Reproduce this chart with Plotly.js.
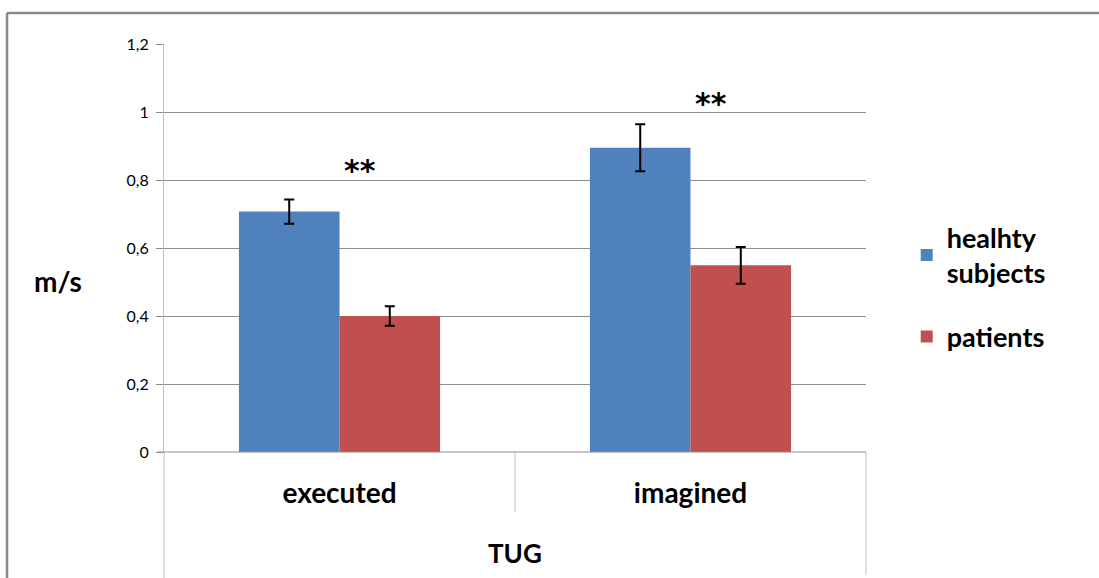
<!DOCTYPE html>
<html>
<head>
<meta charset="utf-8">
<script src="https://cdn.plot.ly/plotly-3.0.1.min.js"></script>
<style>html,body{margin:0;padding:0;background:#fff;}#chart{width:1099px;height:578px;}</style>
</head>
<body>
<div id="chart"></div>
<script>
const categories = ["executed", "imagined"];
const seriesNames = ["healhty<br>subjects", "patients"];
const healthyValues = [0.707, 0.895];
const healthyErrors = [0.036, 0.069];
const patientValues = [0.400, 0.549];
const patientErrors = [0.029, 0.054];
const yTicks = [0, 0.2, 0.4, 0.6, 0.8, 1, 1.2];
const groupTitle = "TUG";
const yTitle = "m/s";
const significance = ["**", "**"];
const significanceY = [0.838, 1.035];

const FONT = "Lato, 'Open Sans', sans-serif";
const errStyle = (arr) => ({type: "data", array: arr, visible: true, color: "#000", thickness: 2, width: 5});

const traces = [
  {type: "bar", name: seriesNames[0], legendgroup: "a", x: categories, y: healthyValues,
   error_y: errStyle(healthyErrors), marker: {color: "#4F81BD", line: {width: 0}}},
  {type: "bar", name: seriesNames[1], legendgroup: "b", x: categories, y: patientValues,
   error_y: errStyle(patientErrors), marker: {color: "#C0504D", line: {width: 0}}}
];

const gray = "#8c8c8c";
const light = "#bfbfbf";
const shapes = [
  {type: "line", xref: "paper", yref: "paper", x0: -0.2236, x1: 1.35, y0: 1.076, y1: 1.076, line: {color: "#8a8a8a", width: 2.5}},
  {type: "line", xref: "paper", yref: "paper", x0: -0.2236, x1: -0.2236, y0: 1.076, y1: -0.35, line: {color: "#8a8a8a", width: 2.5}},
  {type: "line", xref: "paper", yref: "paper", x0: 0, x1: 0, y0: 0, y1: -0.32, line: {color: light, width: 1}},
  {type: "line", xref: "paper", yref: "paper", x0: 0.5, x1: 0.5, y0: 0, y1: -0.147, line: {color: light, width: 1}},
  {type: "line", xref: "paper", yref: "paper", x0: 1, x1: 1, y0: 0, y1: -0.301, line: {color: light, width: 1}},
  {type: "line", xref: "paper", yref: "paper", x0: -0.0085, x1: 1, y0: 0, y1: 0, line: {color: gray, width: 1}}
];

const annotations = [
  {xref: "paper", yref: "paper", x: (58 - 164) / 702, y: (452 - 281) / 408, text: "<b>" + yTitle + "</b>",
   showarrow: false, font: {family: FONT, size: 28, color: "#000"}, xanchor: "center", yanchor: "middle"},
  {xref: "paper", yref: "paper", x: 0.5, y: (452 - 553) / 408, text: "<b>" + groupTitle + "</b>",
   showarrow: false, font: {family: FONT, size: 26, color: "#000"}, xanchor: "center", yanchor: "middle"}
];
categories.forEach((c, i) => {
  annotations.push({x: c, y: significanceY[i], xref: "x", yref: "y", xshift: 20, yshift: -3, text: "<b>" + significance[i] + "</b>",
    showarrow: false, font: {family: "'DejaVu Sans', sans-serif", size: 30, color: "#000"}, xanchor: "center", yanchor: "middle"});
});

const layout = {
  width: 1099, height: 578,
  margin: {l: 164, r: 233, t: 44, b: 126, pad: 0},
  paper_bgcolor: "#fff", plot_bgcolor: "#fff",
  separators: ",.",
  barmode: "group", bargap: 0.427, bargroupgap: 0,
  font: {family: FONT, color: "#000"},
  showlegend: true,
  legend: {x: 1.058, y: 0.585, xanchor: "left", yanchor: "top", traceorder: "grouped",
    font: {family: FONT, size: 27, color: "#000", weight: "bold"},
    tracegroupgap: 26, bgcolor: "rgba(0,0,0,0)", itemwidth: 30},
  xaxis: {type: "category", showgrid: false, zeroline: false, showline: false, ticks: "",
    tickfont: {family: FONT, size: 28, color: "#000", weight: "bold"}, ticklabelstandoff: 22, fixedrange: true},
  yaxis: {range: [0, 1.2], tickvals: yTicks, showgrid: true, gridcolor: gray, gridwidth: 1, zeroline: false,
    showline: true, linecolor: light, linewidth: 1, ticks: "outside", ticklen: 7, tickcolor: gray,
    tickfont: {family: FONT, size: 16, color: "#000"}, ticklabelstandoff: 4, fixedrange: true},
  shapes: shapes,
  annotations: annotations
};

Plotly.newPlot("chart", traces, layout, {displayModeBar: false, staticPlot: true});
</script>
</body>
</html>
